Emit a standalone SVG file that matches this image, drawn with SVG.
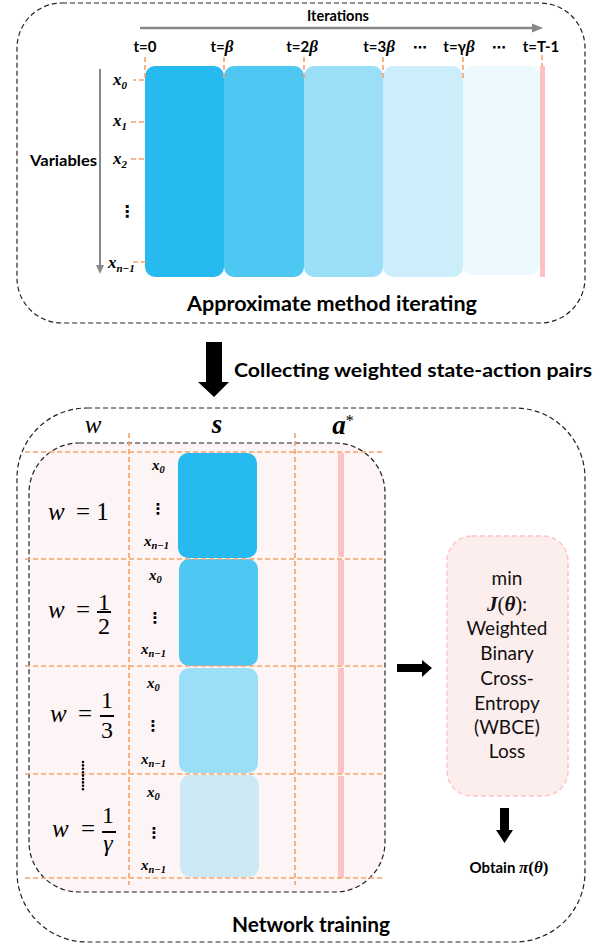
<svg xmlns="http://www.w3.org/2000/svg" width="616" height="945" viewBox="0 0 616 945">
<defs>
<style>
.bt{font-family:Lato,"Liberation Sans",sans-serif;font-weight:bold;fill:#000}
.rt{font-family:Lato,"Liberation Sans",sans-serif;fill:#111}
.m{font-family:"Liberation Serif","DejaVu Serif",serif;font-style:italic;font-weight:bold}
.mi{font-family:"Liberation Serif","DejaVu Serif",serif;font-style:italic}
.mr{font-family:"Liberation Serif","DejaVu Serif",serif}
.sym{font-family:"DejaVu Sans",sans-serif;font-weight:bold}
.box{fill:none;stroke:#222;stroke-width:1.2;stroke-dasharray:5 3}
.og{stroke:#F4A26B;stroke-width:1.6;stroke-dasharray:5 3;fill:none}
.xl{font-size:17px}
.sub{font-size:11px}
</style>
</defs>
<rect width="616" height="945" fill="#fff"/>

<g id="top-panel">
  <rect class="box" x="17" y="3" width="568" height="320" rx="45"/>
  <text class="bt" x="338" y="21" font-size="14.5" text-anchor="middle">Iterations</text>
  <text class="bt" x="332" y="311" font-size="20" text-anchor="middle" textLength="290" lengthAdjust="spacingAndGlyphs">Approximate method iterating</text>
  <text class="bt" x="30" y="166" font-size="15" textLength="67" lengthAdjust="spacingAndGlyphs">Variables</text>
</g>

<g id="iteration-blocks">
  <rect x="145" y="66" width="79" height="211" rx="10" fill="#27BAF1"/>
  <rect x="224" y="66" width="80" height="211" rx="10" fill="#4EC8F2"/>
  <rect x="304" y="66" width="79" height="211" rx="10" fill="#9ADFF7"/>
  <rect x="383" y="66" width="80" height="211" rx="10" fill="#CCEEFA"/>
  <rect x="463" y="66" width="77" height="209" rx="10" fill="#EBF8FD"/>
  <rect x="540" y="66" width="5" height="211" fill="#FFC0C0"/>
  <g class="og">
    <path d="M145 57V80H133"/>
    <path d="M224 57V80"/>
    <path d="M304 57V80"/>
    <path d="M383 57V80"/>
    <path d="M463 57V80"/>
    <path d="M542 55V66"/>
    <path d="M131 122H145"/>
    <path d="M131 159H145"/>
    <path d="M133 262H147"/>
  </g>
</g>

<g id="iteration-labels" font-size="15">
  <text class="bt" x="145" y="52" text-anchor="middle">t=0</text>
  <text class="bt" x="222" y="52" text-anchor="middle">t=<tspan class="m" font-size="17">β</tspan></text>
  <text class="bt" x="302" y="52" text-anchor="middle">t=2<tspan class="m" font-size="17">β</tspan></text>
  <text class="bt" x="379" y="52" text-anchor="middle">t=3<tspan class="m" font-size="17">β</tspan></text>
  <text class="sym" x="420" y="52" text-anchor="middle" font-size="14">⋯</text>
  <text class="bt" x="459" y="52" text-anchor="middle">t=γ<tspan class="m" font-size="17">β</tspan></text>
  <text class="sym" x="499" y="52" text-anchor="middle" font-size="14">⋯</text>
  <text class="bt" x="541" y="52" text-anchor="middle">t=T-1</text>
</g>

<g id="variable-labels">
  <text class="m xl" x="113" y="85">x<tspan class="sub" dy="4">0</tspan></text>
  <text class="m xl" x="113" y="126">x<tspan class="sub" dy="4">1</tspan></text>
  <text class="m xl" x="113" y="164">x<tspan class="sub" dy="4">2</tspan></text>
  <text class="sym" x="127" y="217" font-size="16" text-anchor="middle">⋮</text>
  <text class="m xl" x="108" y="268">x<tspan class="sub" dy="4">n−1</tspan></text>
</g>

<g id="bottom-panel">
  <rect class="box" x="17" y="408" width="568" height="534" rx="70"/>
  <rect x="29" y="443" width="356" height="449" rx="50" fill="#FDF5F5" stroke="#222" stroke-width="1.2" stroke-dasharray="5 3"/>
  <text class="mi" x="93" y="433" font-size="25" text-anchor="middle">w</text>
  <text class="m" x="217" y="433" font-size="27" text-anchor="middle">s</text>
  <text class="m" x="343" y="434" font-size="27" text-anchor="middle">a<tspan font-size="16" dy="-8" font-style="normal" font-weight="normal">*</tspan></text>
  <text class="bt" x="311" y="932" font-size="20" text-anchor="middle" textLength="158" lengthAdjust="spacingAndGlyphs">Network training</text>
</g>

<g id="sample-grid">
  <rect x="338" y="453" width="6" height="104" fill="#FFC2C2"/>
  <rect x="338" y="560" width="6" height="105" fill="#FFC2C2"/>
  <rect x="338" y="668" width="6" height="105" fill="#FFC2C2"/>
  <rect x="338" y="776" width="6" height="102" fill="#FFC2C2"/>
  <rect x="178" y="453" width="79" height="105" rx="10" fill="#27BAF1"/>
  <rect x="179" y="559" width="79" height="107" rx="10" fill="#4EC8F2"/>
  <rect x="179" y="668" width="79" height="105" rx="10" fill="#9ADFF7"/>
  <rect x="180" y="775" width="79" height="102" rx="10" fill="#CCE9F5"/>
  <g class="og">
    <path d="M25 452H383M25 559H383M25 666H383M25 774H383M25 878H383"/>
    <path d="M129 433V885M295 433V885"/>
  </g>
</g>

<g id="row-1">
  <text class="m" x="152" y="470" font-size="15">x<tspan font-size="10.5" dy="3">0</tspan></text>
  <text class="sym" x="158" y="514" font-size="15" text-anchor="middle">⋮</text>
  <text class="m" x="144" y="546" font-size="15">x<tspan font-size="10.5" dy="3">n−1</tspan></text>
  <text class="mi" x="48" y="520" font-size="25">w</text>
  <text class="mr" x="76" y="520" font-size="25">= 1</text>
</g>
<g id="row-2">
  <text class="m" x="149" y="580" font-size="15">x<tspan font-size="10.5" dy="3">0</tspan></text>
  <text class="sym" x="155" y="623" font-size="15" text-anchor="middle">⋮</text>
  <text class="m" x="141" y="654" font-size="15">x<tspan font-size="10.5" dy="3">n−1</tspan></text>
  <text class="mi" x="48" y="618" font-size="25">w</text>
  <text class="mr" x="76" y="618" font-size="25">=</text>
  <text class="mr" x="104" y="610" font-size="24" text-anchor="middle">1</text>
  <rect x="97" y="611" width="14" height="2"/>
  <text class="mr" x="104" y="634" font-size="24" text-anchor="middle">2</text>
</g>
<g id="row-3">
  <text class="m" x="147" y="688" font-size="15">x<tspan font-size="10.5" dy="3">0</tspan></text>
  <text class="sym" x="153" y="731" font-size="15" text-anchor="middle">⋮</text>
  <text class="m" x="141" y="764" font-size="15">x<tspan font-size="10.5" dy="3">n−1</tspan></text>
  <text class="mi" x="50" y="722" font-size="25">w</text>
  <text class="mr" x="78" y="722" font-size="25">=</text>
  <text class="mr" x="107" y="708" font-size="24" text-anchor="middle">1</text>
  <rect x="100" y="715" width="14" height="2"/>
  <text class="mr" x="107" y="738" font-size="24" text-anchor="middle">3</text>
</g>
<g id="row-ellipsis">
  <line x1="83" y1="762" x2="83" y2="790" stroke="#000" stroke-width="2.6" stroke-linecap="round" stroke-dasharray="0 3.4"/>
</g>
<g id="row-4">
  <text class="m" x="147" y="797" font-size="15">x<tspan font-size="10.5" dy="3">0</tspan></text>
  <text class="sym" x="154" y="838" font-size="15" text-anchor="middle">⋮</text>
  <text class="m" x="141" y="870" font-size="15">x<tspan font-size="10.5" dy="3">n−1</tspan></text>
  <text class="mi" x="52" y="837" font-size="25">w</text>
  <text class="mr" x="81" y="837" font-size="25">=</text>
  <text class="mr" x="108" y="823" font-size="24" text-anchor="middle">1</text>
  <rect x="102" y="831" width="14" height="2"/>
  <text class="mi" x="108" y="851" font-size="24" text-anchor="middle">γ</text>
</g>

<g id="loss-node">
  <rect x="447" y="536" width="121" height="260" rx="25" fill="#FDEEEE" stroke="#FFC4C4" stroke-width="1.5" stroke-dasharray="5 3"/>
  <g class="rt" font-size="19" text-anchor="middle">
    <text x="507" y="585">min</text>
    <text x="507" y="611"><tspan class="m" font-size="21">J</tspan><tspan class="mr" font-size="21">(</tspan><tspan class="m" font-size="21">θ</tspan><tspan class="mr" font-size="21">)</tspan>:</text>
    <text x="507" y="635">Weighted</text>
    <text x="507" y="660">Binary</text>
    <text x="507" y="685">Cross-</text>
    <text x="507" y="710">Entropy</text>
    <text x="507" y="734">(WBCE)</text>
    <text x="507" y="758">Loss</text>
  </g>
</g>

<g id="output-node">
  <text class="bt" x="509" y="873" font-size="15" text-anchor="middle">Obtain <tspan class="m" font-size="17">π</tspan><tspan class="mr" font-size="17" font-weight="bold">(</tspan><tspan class="m" font-size="17">θ</tspan><tspan class="mr" font-size="17" font-weight="bold">)</tspan></text>
</g>

<g id="connectors">
  <line x1="140" y1="28" x2="533" y2="28" stroke="#888" stroke-width="2.5"/>
  <polygon points="532,23.5 543,28 532,32.5" fill="#888"/>
  <line x1="100" y1="69" x2="100" y2="266" stroke="#888" stroke-width="2"/>
  <polygon points="96,265 104,265 100,274" fill="#888"/>
  <polygon points="206,342 222,342 222,382 229,382 214,397 198,382 206,382" fill="#000"/>
  <text class="bt" x="234" y="377" font-size="19" textLength="358" lengthAdjust="spacingAndGlyphs">Collecting weighted state-action pairs</text>
  <polygon points="397,664 422,664 422,660 432,668 422,677 422,672 397,672" fill="#000"/>
  <polygon points="500,808 509,808 509,830 513,830 504.5,843 496,830 500,830" fill="#000"/>
</g>
</svg>
